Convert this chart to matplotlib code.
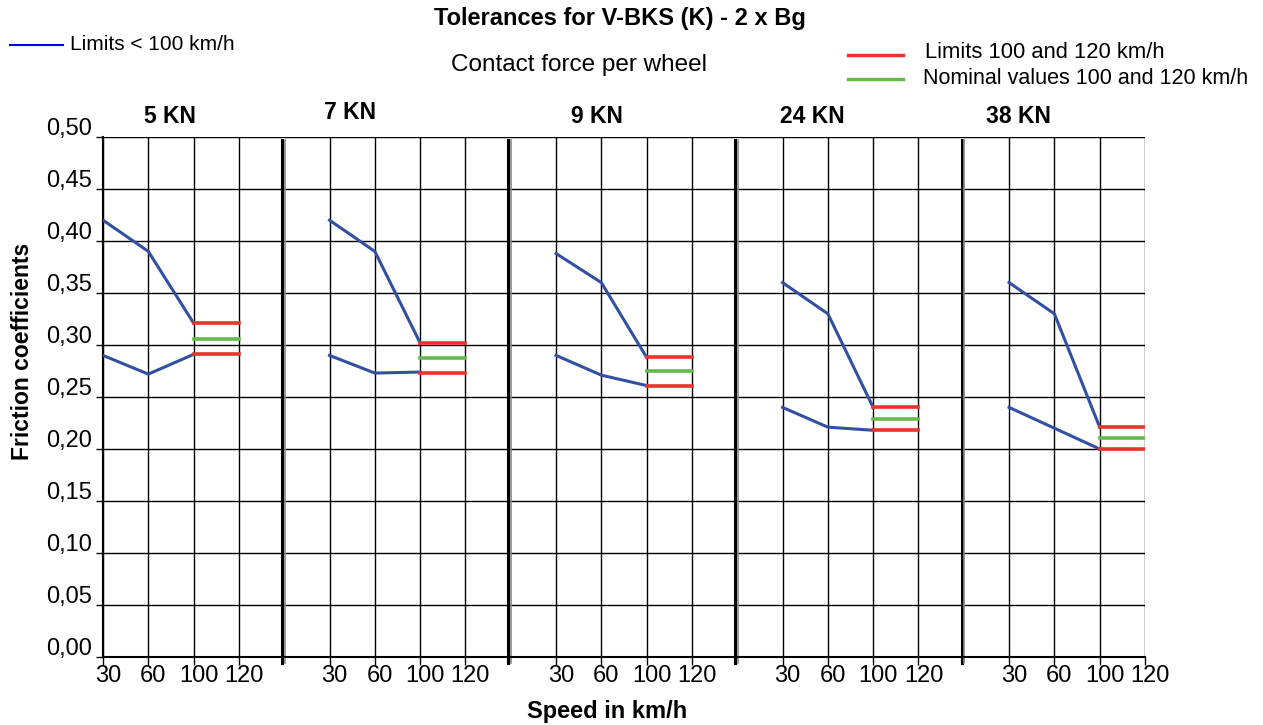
import matplotlib.pyplot as plt
from matplotlib.transforms import ScaledTranslation

plt.rcParams['font.family'] = ['Liberation Sans', 'DejaVu Sans']

# Data
panels = ['5 KN', '7 KN', '9 KN', '24 KN', '38 KN']
speeds = ['30', '60', '100', '120']
upper_limits = [[0.420, 0.390, 0.321],
                [0.420, 0.390, 0.302],
                [0.388, 0.360, 0.288],
                [0.360, 0.330, 0.240],
                [0.360, 0.330, 0.221]]
lower_limits = [[0.290, 0.272, 0.291],
                [0.290, 0.273, 0.274],
                [0.290, 0.271, 0.261],
                [0.240, 0.221, 0.218],
                [0.240, 0.220, 0.200]]
red_high = [0.321, 0.302, 0.288, 0.240, 0.221]
red_low = [0.291, 0.273, 0.261, 0.218, 0.200]
nominal = [0.306, 0.2875, 0.275, 0.229, 0.2105]
y_ticks = [0.00, 0.05, 0.10, 0.15, 0.20, 0.25, 0.30, 0.35, 0.40, 0.45, 0.50]

blue = '#3150a2'
red = '#ea3329'
green = '#62bb4a'

fig = plt.figure(figsize=(12.63, 7.25), dpi=100)
ax = fig.add_axes([103 / 1263, 68 / 725, 1042 / 1263, 520 / 725])
ax.set_xlim(0, 23)
ax.set_ylim(0, 0.5)

period = 5
tick_pos = []
tick_lab = []
for k in range(len(panels)):
    base = k * period
    for j, s in enumerate(speeds):
        tick_pos.append(base + j)
        tick_lab.append(s)
        ax.axvline(base + j, color='black', lw=1, zorder=1)
    if k < len(panels) - 1:
        b = base + 3.95
        ax.plot([b, b], [-0.006, 0.497], color='black', lw=2.2, clip_on=False, zorder=2)
        ax.plot([b + 0.06, b + 0.06], [-0.006, 0.497], color='#888888', lw=1.2,
                clip_on=False, zorder=2)
    x3 = [base, base + 1, base + 2]
    ax.plot(x3, upper_limits[k], color=blue, lw=2.2, zorder=3)
    ax.plot(x3, lower_limits[k], color=blue, lw=2.2, zorder=3)
    ax.plot([base + 2, base + 3], [red_high[k]] * 2, color=red, lw=2.6, zorder=4)
    ax.plot([base + 2, base + 3], [red_low[k]] * 2, color=red, lw=2.6, zorder=4)
    ax.plot([base + 2, base + 3], [nominal[k]] * 2, color=green, lw=2.6, zorder=4)

label_offsets = [1.48, 0.45, 0.9, 0.65, 0.2]
label_y = [0.5085, 0.5125, 0.5085, 0.5085, 0.5085]
for k, name in enumerate(panels):
    ax.text(k * period + label_offsets[k], label_y[k], name, ha='center', va='bottom',
            fontsize=16.5, fontweight='bold')

for y in y_ticks:
    ax.axhline(y, color='black', lw=1, zorder=1)

ax.set_yticks(y_ticks)
ax.set_yticklabels([('%.2f' % y).replace('.', ',') for y in y_ticks])
ax.set_xticks(tick_pos)
ax.set_xticklabels(tick_lab)
ax.tick_params(axis='y', length=5, width=1, labelsize=17, pad=3)
ax.tick_params(axis='x', length=6, width=1, labelsize=17, pad=1)
yshift = ScaledTranslation(0, -3 / 100, fig.dpi_scale_trans)
for t in ax.get_yticklabels():
    t.set_va('bottom')
    t.set_transform(t.get_transform() + yshift)
xshift = ScaledTranslation(5 / 100, 2 / 100, fig.dpi_scale_trans)
for t in ax.get_xticklabels():
    t.set_transform(t.get_transform() + xshift)
for side in ['left', 'bottom']:
    ax.spines[side].set_linewidth(1.5)
for side in ['top', 'right']:
    ax.spines[side].set_visible(False)

ax.set_ylabel('Friction coefficients', fontsize=16.5, fontweight='bold')
ax.yaxis.set_label_coords(-0.066, 0.587)
ax.set_xlabel('Speed in km/h', fontsize=17, fontweight='bold')
ax.xaxis.set_label_coords(0.484, -0.083)

fig.text(620 / 1263, 1 - 18 / 725, 'Tolerances for V-BKS (K) - 2 x Bg', ha='center',
         va='center', fontsize=17, fontweight='bold')
fig.text(579 / 1263, 1 - 65 / 725, 'Contact force per wheel', ha='center', va='center',
         fontsize=17.5)

# legend drawn by hand
fig.add_artist(plt.Line2D([10 / 1263, 63 / 1263], [1 - 45 / 725] * 2, color='#0000ff', lw=1.5))
fig.text(70 / 1263, 1 - 45 / 725, 'Limits < 100 km/h', va='center', fontsize=15)
fig.add_artist(plt.Line2D([848 / 1263, 903 / 1263], [1 - 55 / 725] * 2, color=red, lw=2.5))
fig.text(925 / 1263, 1 - 53 / 725, 'Limits 100 and 120 km/h', va='center', fontsize=15.8)
fig.add_artist(plt.Line2D([848 / 1263, 903 / 1263], [1 - 79 / 725] * 2, color=green, lw=2.5))
fig.text(923 / 1263, 1 - 78 / 725, 'Nominal values 100 and 120 km/h', va='center', fontsize=15.5)

plt.savefig('out.png', dpi=100)
